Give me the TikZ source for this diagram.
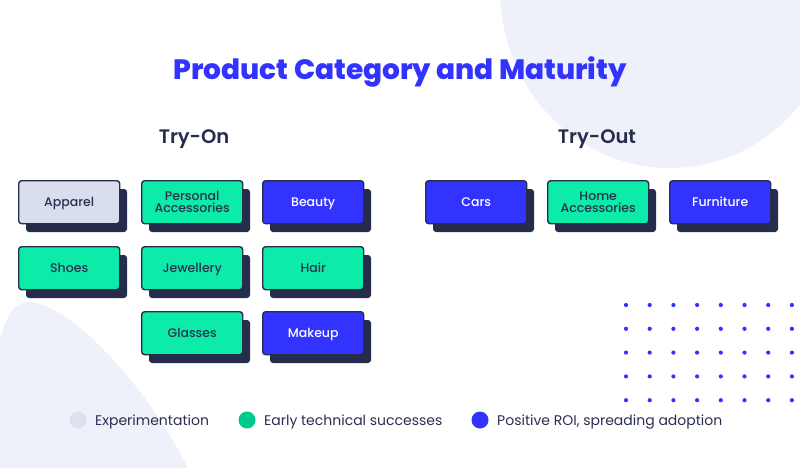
\documentclass[tikz,border=0pt]{standalone}
\usepackage{fontspec}
\setmainfont{Poppins}
\newfontfamily\titlefont{Poppins ExtraBold}
\newfontfamily\medfont{Poppins Medium}
\newfontfamily\semifont{Poppins SemiBold}
\definecolor{navy}{HTML}{262C4C}
\definecolor{txt}{HTML}{2B2F4F}
\definecolor{bblue}{HTML}{3333FF}
\definecolor{bgreen}{HTML}{0DEBA8}
\definecolor{lgreen}{HTML}{00C98E}
\definecolor{bgrey}{HTML}{D9DEEE}
\definecolor{lgrey}{HTML}{DCE1EF}
\definecolor{blob}{HTML}{EEF1F9}
\tikzset{
  cat/.style={draw=navy, line width=1.4pt, rounded corners=3pt, minimum width=101pt, minimum height=43pt, inner sep=0pt, align=center, font=\medfont\fontsize{12.5}{12}\selectfont, text=txt, anchor=north west},
  catgrey/.style={cat, fill=bgrey},
  catgreen/.style={cat, fill=bgreen},
  catblue/.style={cat, fill=bblue, text=white},
  one/.style={text height=9pt, text depth=0pt},
  two/.style={},
  shad/.style={fill=navy, rounded corners=3pt},
  dot/.style={fill=bblue, circle, inner sep=0pt, minimum size=4.2pt},
  legdot/.style={circle, inner sep=0pt, minimum size=17pt},
  legtxt/.style={anchor=west, text=txt, font=\fontsize{14}{16}\selectfont, inner sep=0pt, text height=10pt, text depth=0pt},
  head/.style={text=navy, font=\semifont\fontsize{19.5}{22}\selectfont}
}
\begin{document}
\begin{tikzpicture}[x=1pt,y=-1pt]
\useasboundingbox (0,0) rectangle (800,468);
% background blobs
\fill[blob] (670,-10) ellipse [x radius=170, y radius=178];
\fill[blob] (0,340) .. controls (8,310) and (16,302) .. (30,302) .. controls (75,306) and (150,392) .. (188,468) -- (0,468) -- cycle;
% title
\node[text=bblue, font=\titlefont\fontsize{28}{32}\selectfont] (title) at (400,72) {Product Category and Maturity};
\node[head] (tryon) at (194,139) {Try-On};
\node[head] (tryout) at (597,139) {Try-Out};
% boxes
\foreach \x/\y/\s/\k/\n/\t in {
  18/180/catgrey/one/apparel/Apparel,
  141/180/catgreen/two/personal/{Personal\\Accessories},
  262/180/catblue/one/beauty/Beauty,
  18/246/catgreen/one/shoes/Shoes,
  141/246/catgreen/one/jewellery/Jewellery,
  262/246/catgreen/one/hair/Hair,
  141/311/catgreen/one/glasses/Glasses,
  262/311/catblue/one/makeup/Makeup,
  425/180/catblue/one/cars/Cars,
  547/180/catgreen/two/home/{Home\\Accessories},
  669/180/catblue/one/furniture/Furniture}{
  \fill[shad] (\x+8,\y+9) rectangle ++(101,43);
  \node[\s,\k] (\n) at (\x,\y) {\t};
}
% dots
\foreach \i in {0,...,7}{
  \foreach \j in {0,...,4}{
    \node[dot] (d\i\j) at (626+23.7*\i,305+23.8*\j) {};
  }
}
% legend
\node[legdot, fill=lgrey] (l1) at (78,420) {};
\node[legtxt] (t1) at (95,420) {Experimentation};
\node[legdot, fill=lgreen] (l2) at (247,420) {};
\node[legtxt] (t2) at (264,420) {Early technical successes};
\node[legdot, fill=bblue] (l3) at (480,420) {};
\node[legtxt] (t3) at (497,420) {Positive ROI, spreading adoption};
\end{tikzpicture}
\end{document}
